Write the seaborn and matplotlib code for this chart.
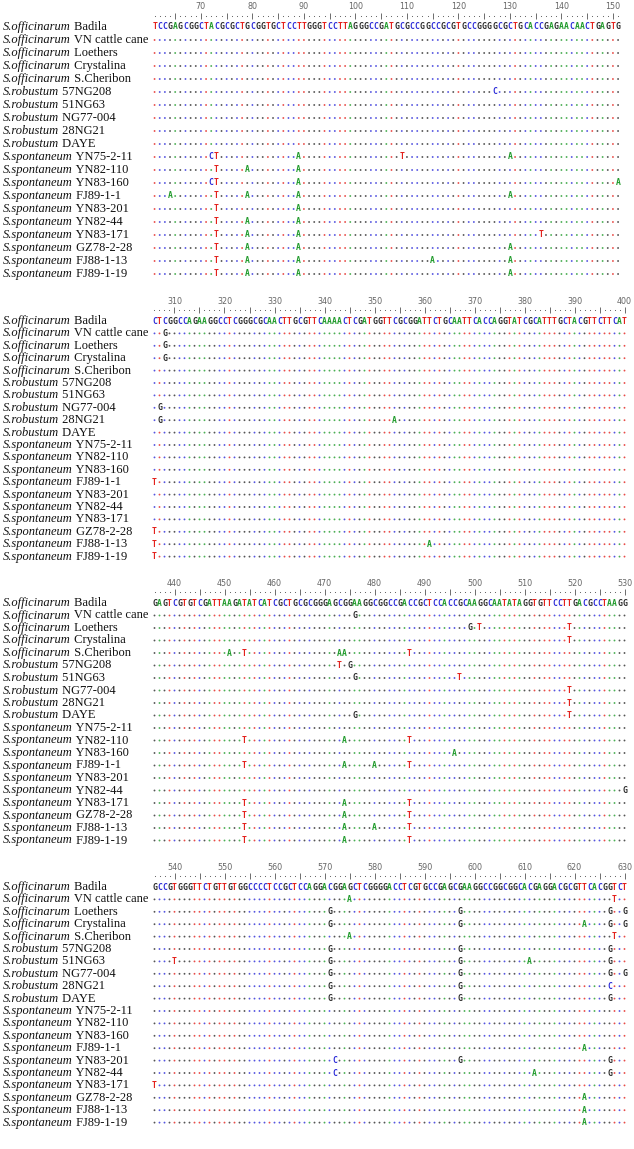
import matplotlib
matplotlib.use('Agg')
import matplotlib.pyplot as plt
import numpy
import pandas
import seaborn

# Accessions (row 0 is the reference Badila)
species = ['S.officinarum'] * 5 + ['S.robustum'] * 5 + ['S.spontaneum'] * 10
cultivars = ['Badila', 'VN cattle cane', 'Loethers', 'Crystalina', 'S.Cheribon',
             '57NG208', '51NG63', 'NG77-004', '28NG21', 'DAYE',
             'YN75-2-11', 'YN82-110', 'YN83-160', 'FJ89-1-1', 'YN83-201',
             'YN82-44', 'YN83-171', 'GZ78-2-28', 'FJ88-1-13', 'FJ89-1-19']

# Reference sequence of each alignment block and its first position
block_start = [61, 306, 436, 536]
block_seq = [
    'TCCGAGCGGCTACGCGCTGCGGTGCTCCTTGGGTCCTTAGGGCCGATGCGCCGGCCGCGTGCCGGGGCGCTGCACCGAGAACAACTGAGTG',
    'CTCGGCCAGAAGGCCTCGGGCGCAACTTGCGTTCAAAACTCGATGGTTCGCGGATTCTGCAATTCACCAGGTATCGCATTTGCTACGTTCTTCAT',
    'GAGTCGTGTCGATTAAGATATCATCGCTGCGCGGGAGCGGAAGGCGGCCGACCGCTCCACCGCAAGGCAATATAGGTGTTCCTTGACGCCTAAGG',
    'GCCGTGGGTTCTGTTGTGGCCCCTCCGCTCCAGGACGGAGCTCGGGGACCTCGTGCCGAGCGAAGGCCGGCGGCACGAGGACGCGTTCACGGTCT',
]

# Substitutions: (row, position, base)
subs_1 = [(5, 127, 'C'),
          (10, 72, 'C'), (10, 73, 'T'), (10, 89, 'A'), (10, 109, 'T'), (10, 130, 'A'),
          (11, 73, 'T'), (11, 79, 'A'), (11, 89, 'A'),
          (12, 72, 'C'), (12, 73, 'T'), (12, 89, 'A'), (12, 151, 'A'),
          (13, 64, 'A'), (13, 73, 'T'), (13, 79, 'A'), (13, 89, 'A'), (13, 130, 'A'),
          (14, 73, 'T'), (14, 89, 'A'),
          (15, 73, 'T'), (15, 79, 'A'), (15, 89, 'A'),
          (16, 73, 'T'), (16, 79, 'A'), (16, 89, 'A'), (16, 136, 'T'),
          (17, 73, 'T'), (17, 79, 'A'), (17, 89, 'A'), (17, 130, 'A'),
          (18, 73, 'T'), (18, 79, 'A'), (18, 89, 'A'), (18, 115, 'A'), (18, 130, 'A'),
          (19, 73, 'T'), (19, 79, 'A'), (19, 89, 'A'), (19, 130, 'A')]
subs_2 = [(1, 308, 'G'), (2, 308, 'G'), (3, 308, 'G'),
          (7, 307, 'G'), (8, 307, 'G'), (8, 354, 'A'),
          (13, 306, 'T'), (17, 306, 'T'), (18, 306, 'T'), (18, 361, 'A'), (19, 306, 'T')]
subs_3 = [(1, 476, 'G'),
          (2, 499, 'G'), (2, 501, 'T'), (2, 519, 'T'),
          (3, 519, 'T'),
          (4, 451, 'A'), (4, 454, 'T'), (4, 473, 'A'), (4, 474, 'A'), (4, 487, 'T'),
          (5, 473, 'T'), (5, 475, 'G'),
          (6, 476, 'G'), (6, 497, 'T'),
          (7, 519, 'T'), (8, 519, 'T'), (9, 476, 'G'), (9, 519, 'T'),
          (11, 454, 'T'), (11, 474, 'A'), (11, 487, 'T'),
          (12, 496, 'A'),
          (13, 454, 'T'), (13, 474, 'A'), (13, 480, 'A'), (13, 487, 'T'),
          (15, 530, 'G'),
          (16, 454, 'T'), (16, 474, 'A'), (16, 487, 'T'),
          (17, 454, 'T'), (17, 474, 'A'), (17, 487, 'T'),
          (18, 454, 'T'), (18, 474, 'A'), (18, 480, 'A'), (18, 487, 'T'),
          (19, 454, 'T'), (19, 474, 'A'), (19, 487, 'T')]
subs_4 = [(1, 575, 'A'), (1, 628, 'T'),
          (2, 571, 'G'), (2, 597, 'G'), (2, 627, 'G'), (2, 630, 'G'),
          (3, 571, 'G'), (3, 597, 'G'), (3, 622, 'A'), (3, 627, 'G'), (3, 630, 'G'),
          (4, 575, 'A'), (4, 628, 'T'),
          (5, 571, 'G'), (5, 597, 'G'), (5, 627, 'G'),
          (6, 540, 'T'), (6, 571, 'G'), (6, 597, 'G'), (6, 611, 'A'), (6, 627, 'G'),
          (7, 571, 'G'), (7, 597, 'G'), (7, 627, 'G'), (7, 630, 'G'),
          (8, 571, 'G'), (8, 597, 'G'), (8, 627, 'C'),
          (9, 571, 'G'), (9, 597, 'G'), (9, 627, 'G'),
          (13, 622, 'A'),
          (14, 572, 'C'), (14, 597, 'G'), (14, 627, 'G'),
          (15, 572, 'C'), (15, 612, 'A'), (15, 627, 'G'),
          (16, 536, 'T'),
          (17, 622, 'A'), (18, 622, 'A'), (19, 622, 'A')]
block_subs = [subs_1, subs_2, subs_3, subs_4]

base_color = {'A': '#1f9a2a', 'C': '#2a2ad8', 'G': '#2a2a2a', 'T': '#e3211c'}

# page layout in pixels
W, H = 634, 1149
ref_y = [27, 321, 603, 887]        # pixel row of the reference sequence
row_h = [13.0, 12.4, 12.5, 12.4]   # pixel spacing between rows
col_w = [5.15, 5.0, 5.0, 5.0]      # pixel width of one base
seq_x = 152                        # left edge of the first base

seaborn.set_theme(style='white')
plt.rcParams['font.family'] = ['DejaVu Sans']

fig = plt.figure(figsize=(W / 100, H / 100), dpi=100)

for b in range(4):
    start = block_start[b]
    seq = block_seq[b]
    sp = row_h[b]
    cw = col_w[b]
    top = ref_y[b] - 2.6 * sp
    height = 22.4 * sp
    ax = fig.add_axes([0, 1 - (top + height) / H, 1, height / H])
    ax.set_xlim(start - 0.5 - seq_x / cw, start - 0.5 + (W - seq_x) / cw)
    ax.set_ylim(19.8, -2.6)
    ax.axis('off')

    positions = numpy.arange(start, start + len(seq))
    ref = dict(zip(positions, seq))

    # ruler
    ruler = pandas.DataFrame({'pos': positions})
    minor = ruler[ruler['pos'] % 5 != 0]
    major = ruler[ruler['pos'] % 5 == 0]
    ax.scatter(minor['pos'], [-0.85] * len(minor), s=0.6, color='#555555', linewidths=0)
    ax.scatter(major['pos'], [-0.85] * len(major), s=14, marker='|', color='#555555', linewidths=0.6)
    for p in positions[positions % 10 == 0]:
        ax.text(p, -1.6, str(p), ha='center', va='center', fontsize=5.8,
                color='#666666', family='DejaVu Sans')

    # reference sequence
    for p, base in ref.items():
        ax.text(p, 0, base, ha='center', va='center', fontsize=5.8, fontweight='bold',
                color=base_color[base], family='DejaVu Sans Mono')

    # identity dots and substitutions
    subs = pandas.DataFrame(block_subs[b], columns=['row', 'pos', 'base'])
    changed = set(zip(subs['row'], subs['pos']))
    dots = pandas.DataFrame([(r, p, ref[p]) for r in range(1, 20) for p in positions
                             if (r, p) not in changed], columns=['row', 'pos', 'base'])
    seaborn.scatterplot(data=dots, x='pos', y='row', hue='base', palette=base_color,
                        s=1.8, linewidth=0, alpha=0.8, legend=False, ax=ax)
    for _, s in subs.iterrows():
        ax.text(s['pos'], s['row'], s['base'], ha='center', va='center', fontsize=5.8,
                fontweight='bold', color=base_color[s['base']], family='DejaVu Sans Mono')

    # accession labels
    for r in range(20):
        t = ax.text(0.005, r, species[r], transform=ax.get_yaxis_transform(),
                    ha='left', va='center', fontsize=9.0, fontstyle='italic',
                    family='Liberation Serif', color='#111111')
        ax.annotate(' ' + cultivars[r], xy=(1, 0), xycoords=t, ha='left', va='bottom',
                    fontsize=9.0, family='Liberation Serif', color='#111111')

fig.savefig('out.png', dpi=100)
